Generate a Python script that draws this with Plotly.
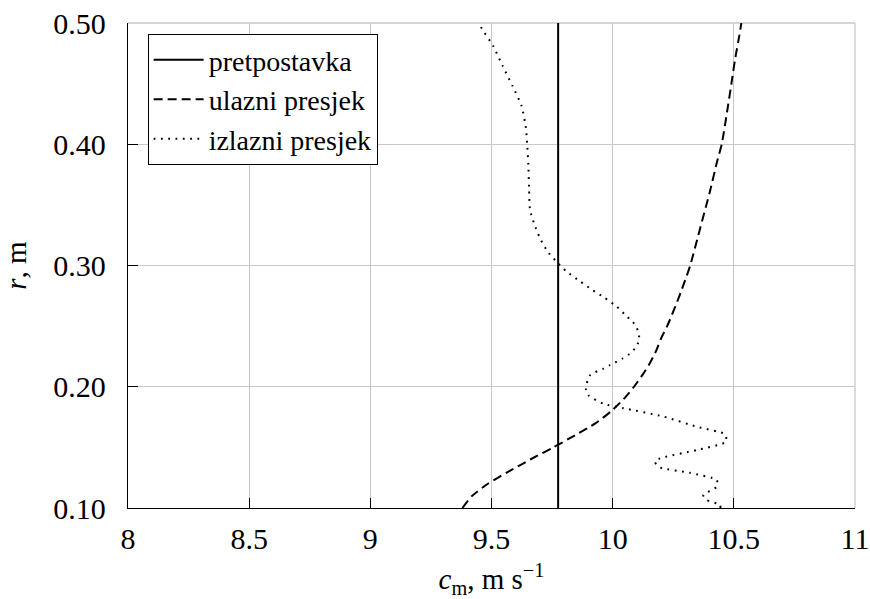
import plotly.graph_objects as go

# ---- data ----
x_tick_vals = [8, 8.5, 9, 9.5, 10, 10.5, 11]
x_tick_text = ["8", "8.5", "9", "9.5", "10", "10.5", "11"]
y_tick_vals = [0.10, 0.20, 0.30, 0.40, 0.50]
y_tick_text = ["0.10", "0.20", "0.30", "0.40", "0.50"]

# pretpostavka (assumed constant)
pret_r = [0.10, 0.50]
pret_c = [9.775, 9.775]

# ulazni presjek (inlet section)
ul_r = [0.10, 0.11, 0.12, 0.13, 0.14, 0.15, 0.16, 0.17, 0.18, 0.19, 0.20,
        0.21, 0.22, 0.23, 0.24, 0.25, 0.26, 0.27, 0.28, 0.30, 0.33, 0.36,
        0.385, 0.40, 0.424, 0.45, 0.47, 0.49, 0.50]
ul_c = [9.38, 9.42, 9.485, 9.57, 9.66, 9.755, 9.845, 9.93, 9.995, 10.046, 10.088,
        10.124, 10.155, 10.18, 10.20, 10.225, 10.246, 10.266, 10.285, 10.32, 10.36, 10.40,
        10.43, 10.45, 10.47, 10.49, 10.505, 10.523, 10.531]

# izlazni presjek (outlet section)
iz_r = [0.100, 0.1025, 0.1066, 0.1106, 0.1175, 0.123, 0.129, 0.1335, 0.138, 0.1409,
        0.1478, 0.1546, 0.1607, 0.167, 0.1754, 0.1823, 0.186, 0.193, 0.1975, 0.2027,
        0.2096, 0.215, 0.2178, 0.2233, 0.227, 0.2316, 0.2366, 0.2432, 0.2486, 0.2535,
        0.2577, 0.266, 0.2736, 0.280, 0.287, 0.295, 0.303, 0.312, 0.323, 0.334,
        0.346, 0.364, 0.383, 0.401, 0.4134, 0.4316, 0.448, 0.465, 0.481, 0.4965, 0.50]
iz_c = [10.445, 10.443, 10.388, 10.374, 10.429, 10.43, 10.319, 10.195, 10.174, 10.195,
        10.347, 10.468, 10.464, 10.347, 10.21, 10.045, 9.962, 9.90, 9.89, 9.893,
        9.907, 9.962, 9.989, 10.041, 10.069, 10.092, 10.106, 10.109, 10.099, 10.083,
        10.06, 10.017, 9.965, 9.915, 9.865, 9.81, 9.769, 9.730, 9.699, 9.677,
        9.659, 9.655, 9.652, 9.647, 9.642, 9.624, 9.587, 9.545, 9.507, 9.457, 9.45]

FONT = "'Liberation Serif', 'DejaVu Serif', 'Times New Roman', serif"
GRID = "#c8c8c8"

fig = go.Figure()
fig.add_trace(go.Scatter(x=pret_c, y=pret_r, mode="lines", name="pretpostavka",
                         line=dict(color="black", width=2)))
fig.add_trace(go.Scatter(x=ul_c, y=ul_r, mode="lines", name="ulazni presjek",
                         line=dict(color="black", width=2, dash="9px,5px", shape="spline", smoothing=0.6)))
fig.add_trace(go.Scatter(x=iz_c, y=iz_r, mode="lines", name="izlazni presjek",
                         line=dict(color="black", width=2, dash="1.8px,5.5px", shape="spline", smoothing=0.6)))

fig.update_layout(
    width=870, height=599,
    margin=dict(l=128, r=15, t=23, b=91, autoexpand=False),
    paper_bgcolor="white", plot_bgcolor="white",
    font=dict(family=FONT, size=30, color="black"),
    showlegend=True,
    legend=dict(x=0.027, y=0.977, xanchor="left", yanchor="top",
                bgcolor="white", bordercolor="black", borderwidth=1,
                font=dict(family=FONT, size=28), tracegroupgap=0,
                itemwidth=50),
    xaxis=dict(range=[8, 11], tickmode="array", tickvals=x_tick_vals, ticktext=x_tick_text,
               showgrid=True, gridcolor=GRID, gridwidth=1, zeroline=False,
               showline=True, linecolor="black", linewidth=1.3, mirror=False,
               ticks="inside", ticklen=10, tickcolor="black", tickwidth=1.3,
               ticklabelstandoff=4, automargin=False,
               title=dict(text="<i>c</i><sub>m</sub>, m s<sup>−1</sup>", standoff=14,
                          font=dict(family=FONT, size=29))),
    yaxis=dict(range=[0.10, 0.50], tickmode="array", tickvals=y_tick_vals, ticktext=y_tick_text,
               showgrid=True, gridcolor=GRID, gridwidth=1, zeroline=False,
               showline=True, linecolor="black", linewidth=1.3, mirror=False,
               ticks="inside", ticklen=10, tickcolor="black", tickwidth=1.3,
               ticklabelstandoff=15, automargin=False,
               title=dict(text="<i>r</i>, m", standoff=18,
                          font=dict(family=FONT, size=29))),
    shapes=[
        dict(type="line", xref="paper", yref="paper", x0=0, x1=1, y0=1, y1=1,
             line=dict(color=GRID, width=1.3), layer="below"),
        dict(type="line", xref="paper", yref="paper", x0=1, x1=1, y0=0, y1=1,
             line=dict(color=GRID, width=1.3), layer="below"),
    ],
)

fig.write_html("out.html", config={"displayModeBar": False},
               post_script="document.body.style.margin='0';document.body.style.overflow='hidden';")
